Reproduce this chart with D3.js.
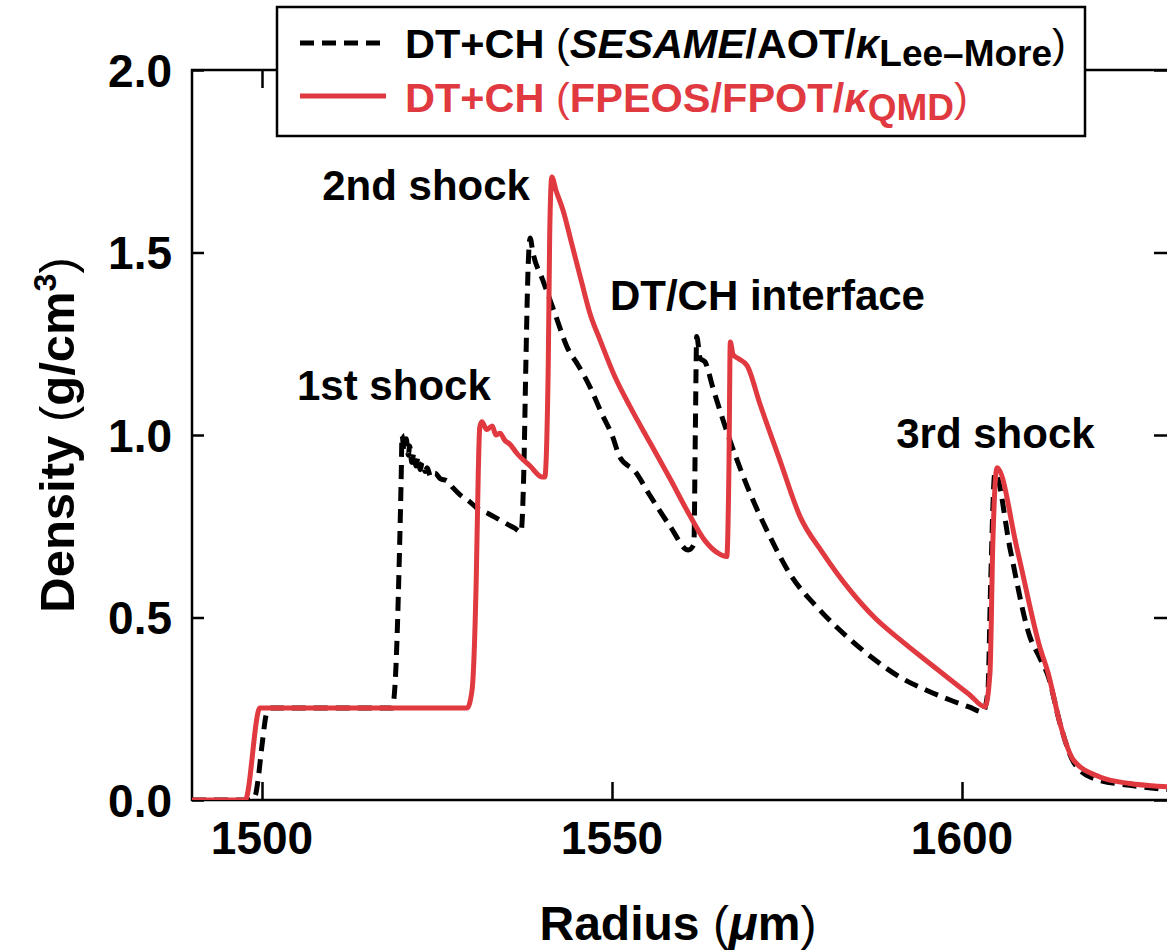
<!DOCTYPE html>
<html>
<head>
<meta charset="utf-8">
<script src="https://cdn.jsdelivr.net/npm/d3@7"></script>
<style>
  html, body { margin: 0; padding: 0; background: #fff; }
  svg { display: block; }
  text { font-family: "Liberation Sans", Arial, Helvetica, sans-serif; font-weight: bold; fill: #000; }
</style>
</head>
<body>
<svg id="chart" width="1167" height="952"></svg>
<script>
// Density profiles vs radius for two equation-of-state / opacity models
const radiusSesame = [1490, 1498.3, 1499, 1499.4, 1500, 1500.7, 1501.4, 1518.6, 1519.1, 1519.6, 1519.9, 1520,
  1520.3, 1520.6, 1520.9, 1521.1, 1521.4, 1521.7, 1522, 1522.3, 1522.6, 1522.9, 1523.3, 1523.6, 1524.1, 1524.7,
  1525.5, 1526.4, 1527.3, 1528.3, 1529.5, 1530.7, 1532.3, 1534, 1535.1, 1536.1, 1537,
  1537.4, 1537.7, 1538, 1538.3, 1538.7, 1540.1, 1541.9, 1543.6, 1545.2, 1546.9, 1548.5, 1550.1, 1551.1,
  1553.3, 1555.4, 1558.3, 1560.9, 1561.7, 1561.9, 1562.1, 1562.6, 1563.3, 1564.4, 1566.4, 1569.3, 1572.6,
  1575.4, 1579.7, 1584, 1587.5, 1591.1, 1595, 1598.3, 1601, 1603, 1603.7, 1604.1, 1604.7, 1606.9, 1609.7,
  1611.1, 1612.3, 1614, 1615.9, 1618.7, 1624, 1630];
const densitySesame = [0, 0, 0.01, 0.05, 0.15, 0.24, 0.252, 0.252, 0.35, 0.65, 0.9, 1.0,
  0.955, 0.99, 0.945, 0.97, 0.925, 0.95, 0.915, 0.94, 0.905, 0.925, 0.9, 0.91, 0.885, 0.895,
  0.88, 0.875, 0.855, 0.836, 0.82, 0.8, 0.785, 0.767, 0.755, 0.745, 0.734,
  0.9, 1.2, 1.45, 1.54, 1.5, 1.425, 1.33, 1.24, 1.19, 1.13, 1.06, 0.995, 0.94,
  0.9, 0.835, 0.75, 0.685, 0.7, 1.0, 1.27, 1.21, 1.2, 1.13, 1.01, 0.86, 0.72,
  0.62, 0.52, 0.44, 0.385, 0.337, 0.3, 0.274, 0.255, 0.241, 0.3, 0.6, 0.896, 0.685, 0.447,
  0.39, 0.34, 0.21, 0.105, 0.06, 0.04, 0.028];

const radiusFpeos = [1490, 1497.6, 1499.7, 1529.3, 1530, 1530.6, 1530.9, 1531.1, 1531.4,
  1532.1, 1532.9, 1533.4, 1534, 1534.7, 1535.4, 1536.4, 1538.3, 1540, 1540.4,
  1540.9, 1541.1, 1541.4, 1542, 1543, 1544.3, 1545.7, 1546.9, 1548.3, 1550.4, 1552.6, 1555.4,
  1558.3, 1561.1, 1563.3, 1565.1, 1566.4, 1566.7, 1566.9, 1567.3, 1568, 1569.3, 1571.1, 1574,
  1576.9, 1580, 1584, 1587.5, 1591.1, 1595, 1598.3, 1601, 1603.3, 1604, 1604.4, 1605, 1607.9,
  1611.1, 1612.3, 1614, 1615.9, 1619.7, 1624, 1629.3, 1630];
const densityFpeos = [0, 0, 0.252, 0.252, 0.3, 0.6, 0.9, 1.02, 1.036,
  1.015, 1.025, 1.0, 1.005, 0.985, 0.975, 0.95, 0.915, 0.885, 0.885,
  1.2, 1.55, 1.707, 1.67, 1.616, 1.52, 1.416, 1.33, 1.26, 1.16, 1.077, 0.98,
  0.88, 0.78, 0.71, 0.677, 0.667, 0.9, 1.255, 1.22, 1.21, 1.19, 1.087, 0.93,
  0.775, 0.68, 0.575, 0.5, 0.44, 0.38, 0.33, 0.29, 0.255, 0.35, 0.7, 0.91, 0.685,
  0.42, 0.348, 0.21, 0.11, 0.063, 0.045, 0.036, 0.035];

const xTicks = [1500, 1550, 1600];
const yTicks = [0, 0.5, 1.0, 1.5, 2.0];

const annotations = [
  { text: "2nd shock", r: 1508.6, d: 1.643 },
  { text: "1st shock", r: 1505, d: 1.096 },
  { text: "DT/CH interface", r: 1549.7, d: 1.342 },
  { text: "3rd shock", r: 1590.6, d: 0.964 }
];

const red = "#e0393f";

const svg = d3.select("#chart");
const margin = { left: 192, top: 70, right: 1172, bottom: 800 };

const x = d3.scaleLinear().domain([1490, 1630]).range([margin.left, margin.right]);
const y = d3.scaleLinear().domain([0, 2]).range([margin.bottom, margin.top]);

svg.append("defs").append("clipPath").attr("id", "plotClip")
  .append("rect")
  .attr("x", margin.left).attr("y", margin.top - 5)
  .attr("width", margin.right - margin.left).attr("height", margin.bottom - margin.top + 5);

// Frame with inward ticks
const tickLen = 18;
svg.append("g").attr("transform", `translate(0,${margin.bottom})`)
  .call(d3.axisTop(x).tickValues(xTicks).tickSize(tickLen).tickFormat(""))
  .call(g => g.select(".domain").remove());
svg.append("g").attr("transform", `translate(0,${margin.top})`)
  .call(d3.axisBottom(x).tickValues(xTicks).tickSize(tickLen).tickFormat(""))
  .call(g => g.select(".domain").remove());
svg.append("g").attr("transform", `translate(${margin.left},0)`)
  .call(d3.axisRight(y).tickValues(yTicks).tickSize(12).tickFormat(""))
  .call(g => g.select(".domain").remove());
svg.append("g").attr("transform", `translate(${margin.right},0)`)
  .call(d3.axisLeft(y).tickValues(yTicks).tickSize(tickLen).tickFormat(""))
  .call(g => g.select(".domain").remove());
svg.selectAll(".tick line").attr("stroke", "#000").attr("stroke-width", 2.5);

svg.append("rect")
  .attr("x", margin.left).attr("y", margin.top)
  .attr("width", margin.right - margin.left).attr("height", margin.bottom - margin.top)
  .attr("fill", "none").attr("stroke", "#000").attr("stroke-width", 2.5);

// Tick labels
svg.append("g").selectAll("text").data(xTicks).join("text")
  .attr("x", d => x(d)).attr("y", 854)
  .attr("text-anchor", "middle").attr("font-size", 46)
  .text(d => d);
svg.append("g").selectAll("text").data(yTicks).join("text")
  .attr("x", 172).attr("y", d => y(d)).attr("dy", "0.36em")
  .attr("text-anchor", "end").attr("font-size", 46)
  .text(d => d.toFixed(1));

// Axis titles
const xt = svg.append("text").attr("x", (margin.left + margin.right) / 2 - 4).attr("y", 940)
  .attr("text-anchor", "middle").attr("font-size", 48);
xt.append("tspan").text("Radius ");
xt.append("tspan").attr("font-weight", "normal").text("(");
xt.append("tspan").attr("font-style", "italic").text("\u03bc");
xt.append("tspan").text("m");
xt.append("tspan").attr("font-weight", "normal").text(")");

const yt = svg.append("text")
  .attr("transform", `translate(74,${(margin.top + margin.bottom) / 2}) rotate(-90)`)
  .attr("text-anchor", "middle").attr("font-size", 49);
yt.append("tspan").text("Density ");
yt.append("tspan").attr("font-weight", "normal").text("(");
yt.append("tspan").text("g/cm");
yt.append("tspan").attr("font-size", 32).attr("dy", -18).text("3");
yt.append("tspan").attr("font-weight", "normal").attr("dy", 18).text(")");

// Curves
const line = d3.line().x(d => x(d[0])).y(d => y(d[1])).curve(d3.curveMonotoneX);
const sesame = radiusSesame.map((r, i) => [r, densitySesame[i]]);
const fpeos = radiusFpeos.map((r, i) => [r, densityFpeos[i]]);

const plot = svg.append("g").attr("clip-path", "url(#plotClip)");
plot.append("path").datum(sesame)
  .attr("d", line).attr("fill", "none").attr("stroke", "#000")
  .attr("stroke-width", 5).attr("stroke-dasharray", "14,8").attr("stroke-linejoin", "round");
plot.append("path").datum(fpeos)
  .attr("d", line).attr("fill", "none").attr("stroke", red)
  .attr("stroke-width", 5).attr("stroke-linejoin", "round");

// Annotations
svg.append("g").selectAll("text").data(annotations).join("text")
  .attr("x", d => x(d.r)).attr("y", d => y(d.d))
  .attr("font-size", 42)
  .text(d => d.text);

// Legend
const lg = svg.append("g");
lg.append("rect").attr("x", 277).attr("y", 7).attr("width", 808).attr("height", 129)
  .attr("fill", "#fff").attr("stroke", "#000").attr("stroke-width", 2.5);
lg.append("line").attr("x1", 300).attr("x2", 386).attr("y1", 43).attr("y2", 43)
  .attr("stroke", "#000").attr("stroke-width", 5).attr("stroke-dasharray", "14,8");
lg.append("line").attr("x1", 300).attr("x2", 386).attr("y1", 96).attr("y2", 96)
  .attr("stroke", red).attr("stroke-width", 5);

const l1 = lg.append("text").attr("x", 405).attr("y", 58).attr("font-size", 41.5);
l1.append("tspan").text("DT+CH ");
l1.append("tspan").attr("font-weight", "normal").text("(");
l1.append("tspan").attr("font-style", "italic").text("SESAME");
l1.append("tspan").text("/AOT/");
l1.append("tspan").attr("font-style", "italic").text("\u03ba");
l1.append("tspan").attr("font-size", 37).attr("dy", 8).text("Lee\u2013More");
l1.append("tspan").attr("font-weight", "normal").attr("dy", -8).text(")");

const l2 = lg.append("text").attr("x", 405).attr("y", 112).attr("font-size", 41.5)
  .style("fill", red);
l2.append("tspan").text("DT+CH ");
l2.append("tspan").attr("font-weight", "normal").text("(");
l2.append("tspan").text("FPEOS/FPOT/");
l2.append("tspan").attr("font-style", "italic").text("\u03ba");
l2.append("tspan").attr("font-size", 37).attr("dy", 8).text("QMD");
l2.append("tspan").attr("font-weight", "normal").attr("dy", -8).text(")");
</script>
</body>
</html>
